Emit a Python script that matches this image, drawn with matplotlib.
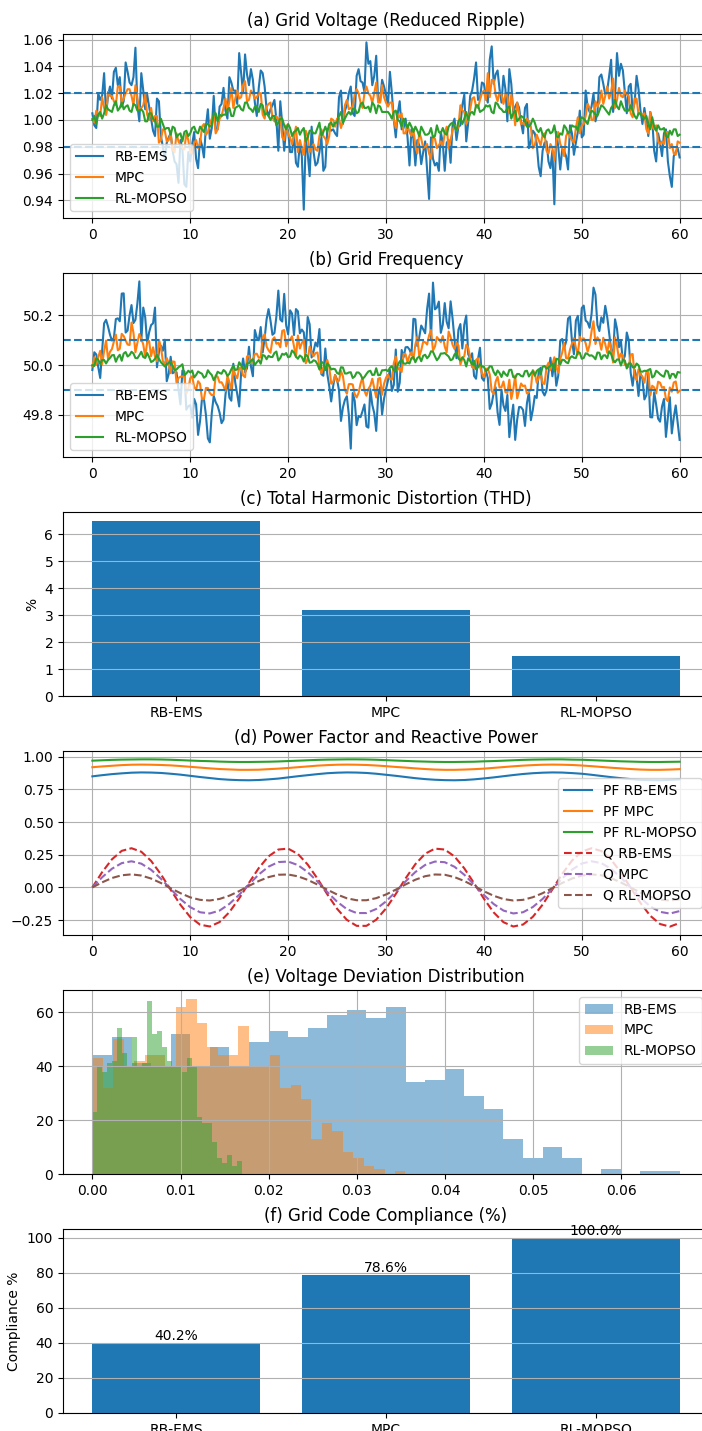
import numpy as np
import matplotlib
matplotlib.use("Agg")
import matplotlib.pyplot as plt
from matplotlib.ticker import MultipleLocator

# ---------------- data ----------------
methods = ["RB-EMS", "MPC", "RL-MOPSO"]
t_start, t_end = 0.0, 60.0

# samples at t = 0, 0.4, 0.8, ... 60.0
voltage_rb = [1.005, 0.994, 1.015, 1.035, 1.018, 1.016, 1.039, 1.032, 1.014, 1.036,
              1.026, 1.054, 0.999, 1.022, 1.019, 1.001, 0.988, 1.014, 0.980, 0.983,
              0.990, 0.969, 0.953, 0.978, 0.950, 0.969, 0.991, 0.964, 0.981, 0.995,
              0.986, 1.018, 0.993, 1.012, 1.007, 1.032, 1.022, 1.012, 1.035, 1.049,
              1.026, 1.030, 1.003, 1.037, 1.025, 1.003, 1.011, 1.000, 1.014, 0.977,
              0.992, 0.976, 0.968, 0.983, 0.933, 0.975, 0.995, 0.966, 0.976, 0.962,
              0.993, 0.992, 0.990, 1.017, 0.997, 1.011, 1.025, 1.003, 1.038, 1.028,
              1.058, 1.044, 1.033, 1.014, 1.030, 1.019, 1.036, 1.000, 1.005, 0.993,
              1.001, 0.966, 0.986, 0.985, 0.967, 0.984, 0.941, 0.971, 0.968, 0.991,
              0.962, 0.985, 0.996, 0.985, 0.996, 1.019, 0.998, 1.022, 1.043, 1.016,
              1.027, 1.013, 1.055, 1.034, 1.023, 1.033, 0.999, 1.027, 1.010, 1.009,
              0.990, 1.012, 0.984, 0.990, 0.965, 0.977, 0.984, 0.964, 0.937, 0.980,
              0.978, 0.973, 0.996, 0.974, 0.991, 0.987, 1.022, 1.006, 1.020, 1.005,
              1.034, 1.019, 1.033, 1.006, 1.050, 1.042, 1.021, 1.025, 1.007, 1.033,
              1.007, 1.009, 0.988, 1.000, 0.969, 0.983, 0.990, 0.969, 0.950, 0.976,
              0.972]
# samples at t = 0.2, 0.6, ... 59.8
voltage_rb_mid = [0.996, 1.020, 1.018, 1.004, 1.025, 1.036, 1.026, 1.010, 1.043, 1.028,
                  1.032, 1.011, 1.035, 1.008, 1.010, 0.992, 1.016, 0.988, 0.971, 0.987,
                  0.977, 0.967, 0.985, 0.952, 0.976, 0.982, 0.971, 0.986, 0.972, 1.008,
                  0.994, 0.993, 1.010, 1.024, 1.001, 1.028, 1.022, 1.050, 1.020, 1.034,
                  1.038, 1.013, 1.024, 1.035, 1.008, 1.008, 1.015, 0.977, 0.997, 0.994,
                  0.976, 0.990, 0.965, 0.973, 0.986, 0.958, 0.976, 0.968, 0.987, 0.965,
                  0.994, 0.993, 0.988, 1.022, 1.007, 1.020, 1.005, 1.033, 1.029, 1.021,
                  1.042, 1.026, 1.048, 1.014, 1.025, 1.011, 1.020, 0.987, 1.014, 0.994,
                  0.987, 0.993, 0.966, 0.981, 0.976, 0.962, 0.987, 0.966, 0.962, 0.983,
                  0.983, 0.968, 1.001, 0.995, 1.011, 0.984, 1.018, 1.031, 1.015, 1.028,
                  1.018, 1.045, 1.027, 1.037, 1.013, 1.023, 1.038, 1.006, 1.013, 0.998,
                  1.009, 0.979, 0.992, 0.982, 0.958, 0.983, 0.969, 0.977, 0.991, 0.963,
                  0.977, 0.963, 0.990, 0.983, 1.007, 0.989, 1.010, 1.010, 0.999, 1.032,
                  1.027, 1.022, 1.045, 1.017, 1.033, 1.037, 1.005, 1.027, 1.013, 1.023,
                  0.997, 0.999, 1.006, 0.977, 0.990, 0.973, 0.993, 0.958, 0.973, 0.979]

voltage_mpc = [1.001, 1.007, 1.003, 1.009, 1.021, 1.018, 1.011, 1.025, 1.016, 1.023,
               1.018, 1.026, 1.008, 1.011, 1.004, 1.009, 1.003, 0.983, 0.993, 0.984,
               0.990, 0.976, 0.984, 0.979, 0.990, 0.976, 0.983, 0.979, 0.995, 0.989,
               0.997, 1.003, 0.993, 1.003, 1.016, 1.014, 1.009, 1.022, 1.017, 1.029,
               1.015, 1.020, 1.017, 1.020, 1.001, 1.012, 1.002, 1.003, 1.002, 0.985,
               0.989, 0.982, 0.995, 0.985, 0.974, 0.988, 0.979, 0.978, 0.988, 0.988,
               0.982, 1.001, 0.995, 1.001, 0.999, 1.015, 1.009, 1.019, 1.020, 1.009,
               1.025, 1.018, 1.020, 1.013, 1.026, 1.013, 1.013, 1.000, 1.004, 1.005,
               0.990, 0.991, 0.993, 0.975, 0.986, 0.980, 0.975, 0.988, 0.979, 0.984,
               0.990, 0.979, 0.992, 0.992, 1.011, 1.006, 1.000, 1.016, 1.010, 1.015,
               1.022, 1.035, 1.030, 1.019, 1.021, 1.012, 1.018, 1.019, 0.996, 1.005,
               0.998, 1.001, 0.995, 0.981, 0.985, 0.989, 0.977, 0.982, 0.970, 0.991,
               0.979, 0.988, 0.987, 0.983, 1.002, 0.996, 1.003, 1.009, 1.000, 1.010,
               1.022, 1.018, 1.016, 1.031, 1.015, 1.018, 1.022, 1.018, 1.002, 1.016,
               1.005, 1.005, 0.990, 0.995, 0.996, 0.982, 0.982, 0.991, 0.982, 0.974,
               0.983]
voltage_mpc_mid = [0.998, 1.004, 1.017, 1.004, 1.018, 1.014, 1.025, 1.013, 1.020, 1.023,
                   1.011, 1.016, 1.009, 1.019, 1.000, 0.999, 1.003, 0.985, 0.992, 0.985,
                   0.978, 0.990, 0.981, 0.978, 0.985, 0.975, 0.985, 0.982, 0.997, 0.991,
                   1.001, 0.990, 1.001, 1.009, 1.007, 1.024, 1.016, 1.016, 1.026, 1.014,
                   1.022, 1.016, 1.020, 1.004, 1.010, 1.013, 0.999, 1.000, 0.987, 0.996,
                   0.987, 0.988, 0.976, 0.979, 0.992, 0.976, 0.982, 0.977, 0.993, 0.986,
                   0.988, 1.000, 1.001, 0.994, 1.011, 1.008, 1.010, 1.023, 1.013, 1.020,
                   1.020, 1.013, 1.028, 1.013, 1.017, 1.010, 1.013, 0.994, 1.002, 0.990,
                   0.996, 0.988, 0.981, 0.991, 0.979, 0.982, 0.971, 0.986, 0.981, 0.980,
                   0.995, 0.985, 0.996, 0.995, 1.007, 0.997, 1.008, 1.017, 1.009, 1.020,
                   1.015, 1.017, 1.030, 1.014, 1.019, 1.019, 1.005, 1.009, 1.013, 0.997,
                   0.996, 0.999, 0.979, 0.989, 0.981, 0.990, 0.975, 0.979, 0.984, 0.982,
                   0.973, 0.991, 0.985, 0.994, 0.990, 0.997, 1.012, 1.000, 1.014, 1.013,
                   1.012, 1.025, 1.021, 1.009, 1.024, 1.017, 1.019, 1.005, 1.016, 1.004,
                   1.004, 0.993, 1.006, 0.993, 0.984, 0.984, 0.991, 0.979, 0.975, 0.984]

voltage_rl = [1.000, 0.997, 1.006, 1.005, 1.008, 1.006, 1.014, 1.009, 1.008, 1.011,
              1.006, 1.011, 1.007, 1.006, 0.999, 1.005, 0.999, 0.995, 0.997, 0.994,
              0.989, 0.994, 0.989, 0.984, 0.992, 0.990, 0.995, 0.990, 0.993, 0.997,
              0.995, 1.005, 0.999, 1.003, 1.004, 1.009, 1.003, 1.010, 1.008, 1.013,
              1.009, 1.006, 1.010, 1.012, 1.004, 1.003, 1.003, 0.996, 1.001, 0.996,
              0.997, 0.988, 0.992, 0.989, 0.994, 0.987, 0.992, 0.990, 0.998, 0.991,
              0.991, 0.998, 0.998, 1.003, 0.998, 1.004, 1.004, 1.009, 1.006, 1.013,
              1.009, 1.006, 1.011, 1.011, 1.006, 1.006, 1.004, 1.006, 1.000, 0.995,
              0.998, 0.998, 0.991, 0.992, 0.995, 0.989, 0.990, 0.987, 0.996, 0.990,
              0.990, 0.995, 0.998, 0.992, 1.001, 1.001, 1.000, 1.006, 1.011, 1.006,
              1.008, 1.010, 1.006, 1.013, 1.009, 1.006, 1.009, 1.001, 1.007, 1.001,
              1.002, 0.995, 0.997, 0.998, 0.991, 0.989, 0.992, 0.990, 0.996, 0.987,
              0.989, 0.994, 0.992, 0.995, 0.992, 1.002, 0.999, 1.003, 1.006, 1.003,
              1.011, 1.008, 1.004, 1.011, 1.010, 1.014, 1.007, 1.007, 1.007, 1.001,
              1.005, 1.001, 0.997, 1.002, 0.992, 0.993, 0.994, 0.987, 0.989, 0.993,
              0.989]
voltage_rl_mid = [1.003, 1.004, 1.001, 1.011, 1.007, 1.011, 1.007, 1.013, 1.010, 1.007,
                  1.012, 1.007, 1.008, 0.999, 1.005, 1.001, 0.995, 1.001, 0.993, 0.994,
                  0.995, 0.987, 0.990, 0.991, 0.988, 0.994, 0.991, 0.995, 0.991, 0.997,
                  0.996, 1.005, 1.004, 1.004, 1.008, 1.003, 1.009, 1.011, 1.007, 1.013,
                  1.008, 1.010, 1.006, 1.011, 1.005, 1.000, 1.003, 0.998, 1.001, 0.993,
                  0.994, 0.991, 0.994, 0.992, 0.984, 0.992, 0.990, 0.994, 0.988, 0.995,
                  0.997, 0.995, 0.998, 1.006, 1.001, 1.006, 1.008, 1.005, 1.012, 1.009,
                  1.010, 1.013, 1.005, 1.010, 1.006, 1.006, 1.001, 1.007, 0.999, 1.001,
                  0.994, 0.995, 0.995, 0.988, 0.992, 0.989, 0.994, 0.988, 0.991, 0.994,
                  0.989, 0.997, 0.995, 0.999, 0.997, 1.006, 1.005, 1.004, 1.011, 1.007,
                  1.011, 1.011, 1.005, 1.012, 1.008, 1.006, 1.010, 1.005, 0.999, 1.003,
                  1.000, 0.995, 1.001, 0.993, 0.994, 0.987, 0.993, 0.991, 0.988, 0.990,
                  0.996, 0.990, 0.996, 0.995, 1.000, 1.001, 0.997, 1.007, 1.004, 1.007,
                  1.010, 1.006, 1.009, 1.015, 1.008, 1.010, 1.007, 1.011, 1.003, 1.005,
                  1.002, 1.003, 0.993, 0.995, 0.996, 0.993, 0.988, 0.992, 0.993, 0.988]

freq_rb = [49.980, 50.042, 49.948, 50.167, 50.154, 50.098, 50.184, 50.175, 50.287, 50.138,
           50.240, 50.181, 50.335, 50.230, 50.087, 50.160, 50.230, 50.052, 50.057, 49.935,
           50.033, 49.972, 49.901, 49.978, 49.821, 49.839, 49.864, 49.720, 49.865, 49.801,
           49.690, 49.876, 49.836, 49.767, 49.881, 49.869, 50.005, 49.884, 49.970, 49.971,
           50.073, 49.955, 50.110, 50.152, 50.107, 50.224, 50.121, 50.194, 50.182, 50.285,
           50.123, 50.206, 50.224, 50.127, 50.131, 50.192, 50.030, 50.090, 50.144, 49.957,
           49.965, 49.854, 49.960, 49.898, 49.830, 49.875, 49.665, 49.857, 49.796, 49.815,
           49.754, 49.903, 49.807, 49.880, 49.802, 49.903, 49.981, 49.921, 49.893, 50.060,
           50.071, 50.062, 50.185, 50.076, 50.158, 50.127, 50.286, 50.330, 50.230, 50.129,
           50.248, 50.147, 50.187, 50.027, 50.164, 50.162, 50.043, 50.047, 49.945, 50.069,
           49.937, 49.948, 49.845, 49.911, 49.760, 49.838, 49.880, 49.783, 49.700, 49.832,
           49.820, 49.847, 49.779, 49.876, 49.975, 49.893, 49.898, 50.029, 50.016, 49.958,
           50.104, 50.093, 50.194, 50.043, 50.197, 50.228, 50.178, 50.149, 50.310, 50.160,
           50.191, 50.237, 50.128, 50.041, 50.145, 50.096, 50.036, 50.099, 49.917, 49.951,
           49.966, 49.862, 49.967, 49.790, 49.842, 49.773, 49.864, 49.790, 49.726, 49.838,
           49.700]
freq_rb_mid = [50.051, 49.992, 50.058, 50.181, 50.121, 50.109, 50.187, 50.286, 50.130, 50.199,
               50.168, 50.247, 50.096, 50.191, 50.131, 50.167, 49.991, 50.077, 50.101, 49.964,
               49.967, 49.971, 49.842, 49.974, 49.835, 49.789, 49.842, 49.775, 49.863, 49.706,
               49.808, 49.851, 49.809, 49.781, 49.942, 49.857, 49.929, 49.834, 50.026, 49.987,
               49.994, 50.140, 50.099, 50.050, 50.183, 50.178, 50.128, 50.298, 50.174, 50.159,
               50.219, 50.120, 50.215, 50.142, 50.049, 50.163, 50.055, 50.074, 49.963, 50.066,
               49.915, 49.915, 49.942, 49.776, 49.860, 49.802, 49.888, 49.759, 49.791, 49.842,
               49.749, 49.840, 49.736, 49.911, 49.865, 49.937, 49.896, 50.062, 49.929, 50.031,
               50.072, 50.041, 50.183, 50.112, 50.143, 50.224, 50.106, 50.223, 50.254, 50.161,
               50.173, 50.255, 50.102, 50.141, 50.066, 50.198, 50.028, 49.956, 50.024, 49.948,
               49.977, 49.824, 49.888, 49.810, 49.901, 49.816, 49.711, 49.841, 49.781, 49.831,
               49.756, 49.891, 49.820, 49.868, 49.989, 49.878, 49.969, 49.955, 49.917, 50.098,
               50.068, 50.186, 50.096, 50.178, 50.105, 50.238, 50.171, 50.204, 50.282, 50.136,
               50.169, 50.192, 50.062, 50.183, 50.071, 50.016, 50.130, 49.968, 49.981, 49.876,
               49.946, 49.879, 49.791, 49.891, 49.785, 49.834, 49.712, 49.871, 49.790, 49.768]

freq_mpc = [49.995, 50.001, 50.057, 50.056, 50.025, 50.064, 50.122, 50.065, 50.116, 50.082,
            50.170, 50.051, 50.124, 50.082, 50.091, 50.035, 50.035, 50.101, 50.016, 50.028,
            49.967, 50.013, 49.948, 49.954, 49.886, 49.947, 49.912, 49.935, 49.863, 49.908,
            49.888, 49.881, 49.953, 49.931, 49.895, 49.932, 49.983, 49.947, 49.990, 49.951,
            50.037, 50.020, 50.045, 50.031, 50.124, 50.059, 50.101, 50.085, 50.071, 50.140,
            50.099, 50.115, 50.032, 50.066, 50.101, 50.021, 50.050, 50.048, 49.992, 49.991,
            50.020, 49.925, 49.960, 49.937, 49.955, 49.885, 49.924, 49.884, 49.888, 49.950,
            49.877, 49.917, 49.908, 49.945, 49.881, 49.949, 49.945, 50.008, 49.981, 49.972,
            50.043, 50.038, 50.023, 50.113, 50.059, 50.091, 50.118, 50.058, 50.112, 50.092,
            50.074, 50.134, 50.081, 50.089, 50.002, 50.036, 50.069, 49.991, 50.020, 49.994,
            49.951, 49.986, 49.895, 49.933, 49.910, 49.934, 49.888, 49.864, 49.958, 49.896,
            49.915, 49.886, 49.905, 49.968, 49.948, 49.927, 49.991, 49.980, 50.031, 49.969,
            50.049, 50.027, 50.062, 50.107, 50.042, 50.096, 50.087, 50.080, 50.175, 50.111,
            50.061, 50.084, 50.095, 50.010, 50.077, 50.046, 50.001, 49.992, 50.044, 49.940,
            49.963, 49.929, 49.973, 49.917, 49.886, 49.929, 49.912, 49.855, 49.893, 49.934,
            49.897]
freq_mpc_mid = [50.031, 50.031, 50.004, 50.098, 50.053, 50.094, 50.059, 50.125, 50.098, 50.080,
                50.129, 50.089, 50.106, 50.033, 50.096, 50.071, 50.015, 50.073, 50.003, 50.007,
                50.014, 49.928, 49.953, 49.955, 49.905, 49.955, 49.901, 49.925, 49.864, 49.908,
                49.879, 49.958, 49.930, 49.916, 49.956, 49.898, 49.960, 49.987, 49.958, 50.034,
                50.007, 50.045, 50.029, 50.110, 50.074, 50.049, 50.111, 50.089, 50.137, 50.075,
                50.102, 50.075, 50.118, 50.088, 50.007, 50.074, 50.035, 50.050, 49.967, 49.998,
                49.992, 49.932, 49.933, 49.976, 49.900, 49.923, 49.922, 49.870, 49.925, 49.896,
                49.904, 49.945, 49.870, 49.948, 49.925, 49.961, 49.941, 50.034, 49.989, 50.045,
                50.011, 50.051, 50.082, 50.034, 50.094, 50.082, 50.140, 50.074, 50.102, 50.116,
                50.051, 50.112, 50.064, 50.078, 50.025, 50.081, 50.031, 49.988, 50.027, 49.967,
                49.984, 49.962, 49.884, 49.953, 49.911, 49.891, 49.941, 49.901, 49.866, 49.926,
                49.918, 49.890, 49.980, 49.929, 49.965, 49.924, 50.009, 50.003, 49.991, 50.024,
                50.089, 50.026, 50.086, 50.069, 50.113, 50.107, 50.053, 50.135, 50.084, 50.098,
                50.109, 50.049, 50.066, 50.111, 50.023, 50.038, 50.003, 50.042, 49.956, 49.983,
                49.953, 49.972, 49.878, 49.910, 49.933, 49.909, 49.864, 49.910, 49.930, 49.889]

freq_rl = [49.999, 50.027, 50.004, 50.020, 50.020, 50.039, 50.013, 50.041, 50.046, 50.034,
           50.053, 50.028, 50.039, 50.032, 50.048, 50.012, 50.025, 50.025, 50.003, 50.002,
           50.013, 49.979, 49.991, 50.003, 49.966, 49.970, 49.950, 49.974, 49.965, 49.955,
           49.968, 49.939, 49.973, 49.965, 49.973, 49.965, 49.998, 49.982, 49.999, 49.985,
           50.007, 50.023, 50.011, 50.005, 50.037, 50.037, 50.032, 50.054, 50.028, 50.041,
           50.031, 50.058, 50.034, 50.038, 50.014, 50.034, 50.011, 50.016, 49.982, 50.007,
           50.006, 49.982, 49.983, 49.964, 49.990, 49.966, 49.971, 49.954, 49.970, 49.944,
           49.964, 49.977, 49.961, 49.959, 49.979, 49.981, 49.989, 49.978, 50.000, 50.021,
           50.005, 50.006, 50.032, 50.028, 50.015, 50.041, 50.036, 50.053, 50.019, 50.046,
           50.048, 50.034, 50.023, 50.051, 50.018, 50.020, 50.027, 50.002, 49.983, 50.003,
           49.993, 49.981, 49.994, 49.959, 49.968, 49.974, 49.956, 49.981, 49.949, 49.964,
           49.954, 49.977, 49.966, 49.957, 49.983, 49.993, 49.985, 49.997, 49.978, 50.023,
           50.021, 50.011, 50.029, 50.029, 50.053, 50.025, 50.047, 50.037, 50.033, 50.050,
           50.023, 50.039, 50.055, 50.020, 50.022, 49.998, 50.018, 50.006, 49.991, 50.006,
           49.974, 49.977, 49.980, 49.950, 49.977, 49.963, 49.953, 49.974, 49.964, 49.949,
           49.970]
freq_rl_mid = [49.996, 50.021, 50.020, 50.006, 50.028, 50.040, 50.031, 50.017, 50.052, 50.040,
               50.046, 50.027, 50.053, 50.028, 50.032, 50.016, 50.040, 50.011, 49.994, 50.009,
               49.996, 49.982, 49.996, 49.959, 49.977, 49.978, 49.960, 49.969, 49.949, 49.979,
               49.960, 49.954, 49.968, 49.980, 49.956, 49.983, 49.980, 50.011, 49.985, 50.006,
               50.017, 50.000, 50.020, 50.040, 50.023, 50.032, 50.048, 50.018, 50.045, 50.048,
               50.034, 50.050, 50.025, 50.032, 50.042, 50.009, 50.019, 50.003, 50.013, 49.979,
               49.997, 49.985, 49.968, 49.991, 49.966, 49.970, 49.948, 49.970, 49.962, 49.952,
               49.974, 49.960, 49.987, 49.960, 49.979, 49.975, 49.995, 49.974, 50.014, 50.006,
               50.010, 50.028, 50.011, 50.034, 50.037, 50.027, 50.055, 50.035, 50.029, 50.046,
               50.041, 50.019, 50.042, 50.026, 50.031, 49.994, 50.016, 50.017, 49.991, 49.994,
               49.976, 49.995, 49.972, 49.978, 49.952, 49.963, 49.980, 49.952, 49.964, 49.956,
               49.975, 49.954, 49.976, 49.976, 49.962, 49.996, 49.990, 50.005, 50.025, 50.002,
               50.020, 50.007, 50.035, 50.028, 50.049, 50.028, 50.044, 50.039, 50.023, 50.049,
               50.038, 50.027, 50.044, 50.011, 50.022, 50.021, 49.986, 50.006, 49.990, 49.999,
               49.973, 49.976, 49.984, 49.956, 49.971, 49.957, 49.978, 49.946, 49.964, 49.972]

voltage_limits = [0.98, 1.02]
freq_limits = [49.9, 50.1]

thd_values = [6.5, 3.2, 1.5]

# power factor / reactive power, sampled every 1 s
pq_t_start, pq_t_end = 0, 60
pf_rb = [0.850, 0.859, 0.867, 0.873, 0.878, 0.880, 0.879, 0.876, 0.870, 0.863,
         0.854, 0.845, 0.837, 0.829, 0.824, 0.821, 0.820, 0.822, 0.827, 0.833,
         0.842, 0.851, 0.859, 0.867, 0.874, 0.878, 0.880, 0.879, 0.876, 0.870,
         0.862, 0.854, 0.845, 0.836, 0.829, 0.824, 0.821, 0.820, 0.822, 0.827,
         0.834, 0.842, 0.851, 0.860, 0.868, 0.874, 0.878, 0.880, 0.879, 0.875,
         0.870, 0.862, 0.853, 0.844, 0.836, 0.829, 0.823, 0.821, 0.820, 0.823,
         0.827]
pf_mpc = [0.920, 0.926, 0.931, 0.936, 0.939, 0.940, 0.939, 0.937, 0.934, 0.929,
          0.923, 0.917, 0.911, 0.906, 0.903, 0.900, 0.900, 0.901, 0.905, 0.909,
          0.914, 0.920, 0.926, 0.932, 0.936, 0.939, 0.940, 0.939, 0.937, 0.933,
          0.928, 0.922, 0.917, 0.911, 0.906, 0.902, 0.900, 0.900, 0.902, 0.905,
          0.909, 0.915, 0.921, 0.927, 0.932, 0.936, 0.939, 0.940, 0.939, 0.937,
          0.933, 0.928, 0.922, 0.916, 0.911, 0.906, 0.902, 0.900, 0.900, 0.902,
          0.905]
pf_rl = [0.970, 0.973, 0.976, 0.978, 0.979, 0.980, 0.980, 0.979, 0.977, 0.974,
         0.971, 0.968, 0.966, 0.963, 0.961, 0.960, 0.960, 0.961, 0.962, 0.964,
         0.967, 0.970, 0.973, 0.976, 0.978, 0.979, 0.980, 0.980, 0.979, 0.977,
         0.974, 0.971, 0.968, 0.965, 0.963, 0.961, 0.960, 0.960, 0.961, 0.962,
         0.965, 0.967, 0.970, 0.973, 0.976, 0.978, 0.979, 0.980, 0.980, 0.978,
         0.977, 0.974, 0.971, 0.968, 0.965, 0.963, 0.961, 0.960, 0.960, 0.961,
         0.962]
q_rb = [0.000, 0.117, 0.215, 0.280, 0.300, 0.273, 0.203, 0.101, -0.018, -0.133,
        -0.227, -0.285, -0.299, -0.265, -0.189, -0.084, 0.035, 0.148, 0.238, 0.290,
        0.297, 0.256, 0.175, 0.067, -0.052, -0.163, -0.248, -0.294, -0.294, -0.247,
        -0.161, -0.050, 0.069, 0.178, 0.258, 0.297, 0.290, 0.237, 0.146, 0.032,
        -0.086, -0.191, -0.266, -0.299, -0.284, -0.225, -0.132, -0.015, 0.103, 0.205,
        0.274, 0.300, 0.279, 0.213, 0.114, -0.003, -0.119, -0.217, -0.280, -0.300,
        -0.272]
q_mpc = [0.000, 0.078, 0.143, 0.186, 0.200, 0.182, 0.135, 0.067, -0.012, -0.089,
         -0.151, -0.190, -0.199, -0.177, -0.126, -0.056, 0.023, 0.099, 0.159, 0.194,
         0.198, 0.171, 0.117, 0.045, -0.035, -0.109, -0.166, -0.196, -0.196, -0.165,
         -0.107, -0.033, 0.046, 0.118, 0.172, 0.198, 0.193, 0.158, 0.097, 0.022,
         -0.058, -0.127, -0.177, -0.199, -0.190, -0.150, -0.088, -0.010, 0.069, 0.136,
         0.183, 0.200, 0.186, 0.142, 0.076, -0.002, -0.079, -0.145, -0.187, -0.200,
         -0.181]
q_rl = [0.000, 0.039, 0.072, 0.093, 0.100, 0.091, 0.068, 0.034, -0.006, -0.044,
        -0.076, -0.095, -0.100, -0.088, -0.063, -0.028, 0.012, 0.049, 0.079, 0.097,
        0.099, 0.085, 0.058, 0.022, -0.017, -0.054, -0.083, -0.098, -0.098, -0.082,
        -0.054, -0.017, 0.023, 0.059, 0.086, 0.099, 0.097, 0.079, 0.049, 0.011,
        -0.029, -0.064, -0.089, -0.100, -0.095, -0.075, -0.044, -0.005, 0.034, 0.068,
        0.091, 0.100, 0.093, 0.071, 0.038, -0.001, -0.040, -0.072, -0.093, -0.100,
        -0.091]

# voltage deviation histograms (30 bins from 0 to max deviation)
dev_max_rb, dev_max_mpc, dev_max_rl = 0.0666, 0.0355, 0.0170
hist_rb = [44, 51, 41, 40, 52, 40, 47, 40, 49, 53, 51, 54, 59, 61, 58,
           62, 34, 35, 39, 29, 24, 13, 6, 10, 6, 0, 2, 0, 1, 1]
hist_mpc = [43, 32, 50, 40, 42, 44, 44, 40, 62, 65, 56, 47, 44, 44, 55,
            40, 40, 44, 32, 33, 28, 13, 19, 16, 8, 6, 3, 2, 0, 1]
hist_rl = [23, 40, 38, 41, 42, 54, 45, 40, 51, 40, 41, 64, 52, 53, 47,
           42, 40, 40, 38, 43, 40, 21, 19, 19, 12, 6, 4, 7, 3, 5]

compliance = [40.2, 78.6, 100.0]


def merge(on_grid, mid):
    """Put the two sample sets back in time order."""
    out = np.empty(len(on_grid) + len(mid))
    out[0::2] = on_grid
    out[1::2] = mid
    return out


# ---------------- figure ----------------
W, H = 702, 1431
fig = plt.figure(figsize=(W / 100, H / 100), dpi=100)

left_px, right_px = 63, 709
panel_tops = [34, 273, 512, 751, 990, 1229]
panel_h = 184


def make_ax(i):
    top = panel_tops[i]
    return fig.add_axes([left_px / W, 1 - (top + panel_h) / H,
                         (right_px - left_px) / W, panel_h / H])


n_all = len(voltage_rb) + len(voltage_rb_mid)
t = np.linspace(t_start, t_end, n_all)

# (a) voltage
ax = make_ax(0)
ax.plot(t, merge(voltage_rb, voltage_rb_mid), label=methods[0])
ax.plot(t, merge(voltage_mpc, voltage_mpc_mid), label=methods[1])
ax.plot(t, merge(voltage_rl, voltage_rl_mid), label=methods[2])
for v in voltage_limits:
    ax.axhline(v, linestyle="--")
ax.yaxis.set_major_locator(MultipleLocator(0.02))
ax.set_title("(a) Grid Voltage (Reduced Ripple)")
ax.legend(loc="lower left")
ax.grid(True)

# (b) frequency
ax = make_ax(1)
ax.plot(t, merge(freq_rb, freq_rb_mid), label=methods[0])
ax.plot(t, merge(freq_mpc, freq_mpc_mid), label=methods[1])
ax.plot(t, merge(freq_rl, freq_rl_mid), label=methods[2])
for v in freq_limits:
    ax.axhline(v, linestyle="--")
ax.yaxis.set_major_locator(MultipleLocator(0.2))
ax.set_title("(b) Grid Frequency")
ax.legend(loc="lower left")
ax.grid(True)

# (c) THD
ax = make_ax(2)
ax.bar(methods, thd_values)
ax.yaxis.set_major_locator(MultipleLocator(1))
ax.set_title("(c) Total Harmonic Distortion (THD)")
ax.set_ylabel("%")
ax.grid(True, axis="y")

# (d) PF and Q
ax = make_ax(3)
tq = np.linspace(pq_t_start, pq_t_end, len(pf_rb))
ax.plot(tq, pf_rb, label="PF RB-EMS")
ax.plot(tq, pf_mpc, label="PF MPC")
ax.plot(tq, pf_rl, label="PF RL-MOPSO")
ax.plot(tq, q_rb, "--", label="Q RB-EMS")
ax.plot(tq, q_mpc, "--", label="Q MPC")
ax.plot(tq, q_rl, "--", label="Q RL-MOPSO")
ax.set_title("(d) Power Factor and Reactive Power")
ax.legend(loc="center right")
ax.grid(True)

# (e) deviation histogram
ax = make_ax(4)
for counts, dmax, name in [(hist_rb, dev_max_rb, methods[0]),
                           (hist_mpc, dev_max_mpc, methods[1]),
                           (hist_rl, dev_max_rl, methods[2])]:
    edges = np.linspace(0, dmax, len(counts) + 1)
    ax.hist(edges[:-1], bins=edges, weights=counts, alpha=0.5, label=name)
ax.set_title("(e) Voltage Deviation Distribution")
ax.legend(loc="upper right")
ax.grid(True)

# (f) compliance
ax = make_ax(5)
bars = ax.bar(methods, compliance)
for b, v in zip(bars, compliance):
    ax.text(b.get_x() + b.get_width() / 2, b.get_height(), f"{v:.1f}%",
            ha="center", va="bottom")
ax.set_title("(f) Grid Code Compliance (%)")
ax.set_ylabel("Compliance %")
ax.grid(True, axis="y")

fig.savefig("out.png", dpi=100)
